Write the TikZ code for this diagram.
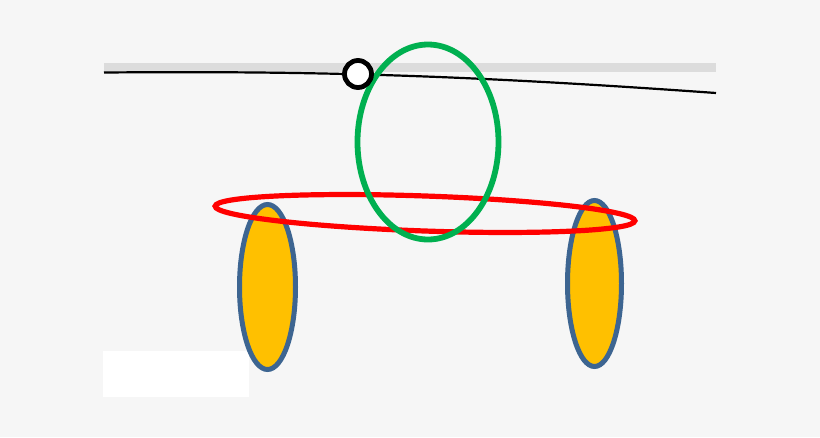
\documentclass[tikz,border=0pt]{standalone}
\usepackage{tikz}
\usetikzlibrary{calc}
\definecolor{bgray}{HTML}{F6F6F6}
\definecolor{bandgray}{HTML}{DCDCDC}
\definecolor{ringgreen}{HTML}{00B050}
\definecolor{ringred}{HTML}{FF0000}
\definecolor{wheelfill}{HTML}{FFC000}
\definecolor{wheeledge}{HTML}{3D6591}
\tikzstyle{wheel} = [draw=wheeledge, fill=wheelfill, line width=5pt]
\tikzstyle{ring} = [line width=5.2pt]
\tikzstyle{track} = [draw=black, line width=2.2pt]

\begin{document}
\begin{tikzpicture}[x=1pt,y=-1pt]
\fill[bgray] (0,0) rectangle (820,437);
\useasboundingbox (0,0) rectangle (820,437);
\coordinate (tl) at (104,72.5);
\coordinate (tr) at (716,93);
\coordinate (pin) at (358,74);
\coordinate (wl) at (267.5,287);
\coordinate (wr) at (594.5,283.5);
\coordinate (rc) at (425,213.5);
\coordinate (gc) at (428,142);

\fill[bandgray] (104,63) rectangle (716,72);
\draw[track] (tl) .. controls (300,71) and (450,74) .. (tr);
\fill[white] (103,351) rectangle (249,397);

\draw[wheel] (wl) ellipse [x radius=28, y radius=82.5];
\draw[wheel] (wr) ellipse [x radius=27, y radius=83];
\draw[ring, ringred, shift={(rc)}, rotate=-2] (0,0) ellipse [x radius=210, y radius=17.5];
\draw[ring, ringgreen, line width=5.8pt] (gc) ellipse [x radius=70.5, y radius=97.5];
\draw[draw=black, fill=white, line width=4.8pt] (pin) circle [radius=13.5];
\end{tikzpicture}
\end{document}
